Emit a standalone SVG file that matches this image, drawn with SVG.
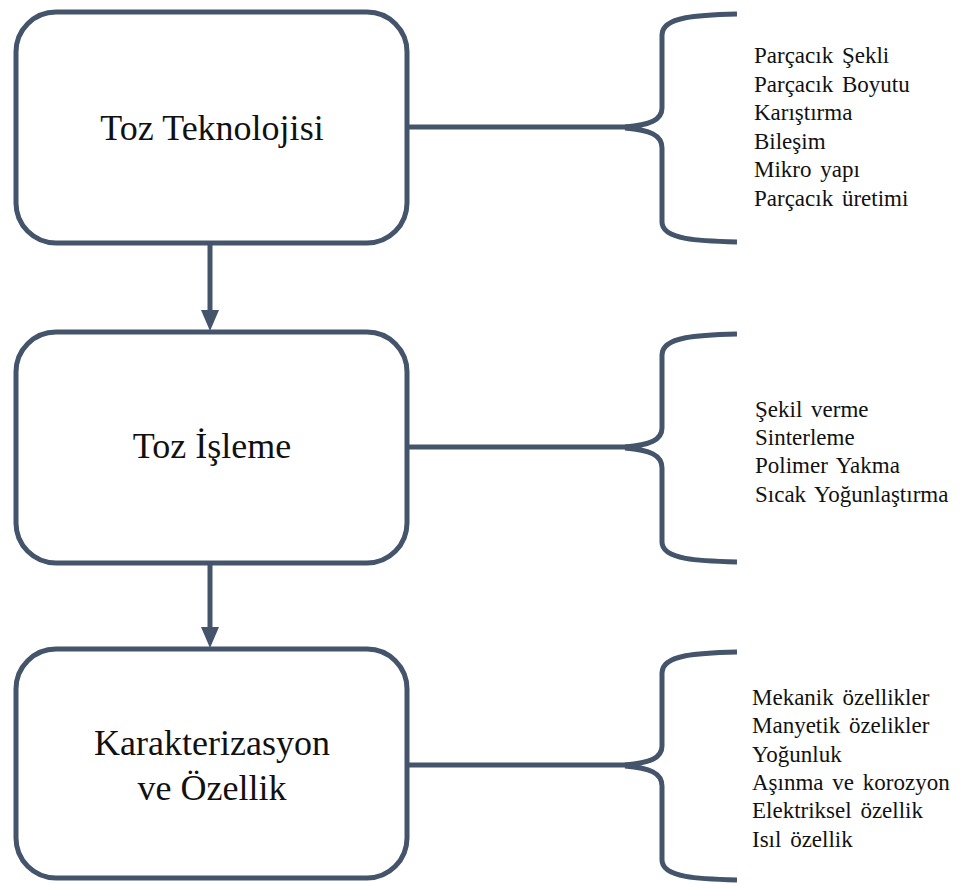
<svg xmlns="http://www.w3.org/2000/svg" width="964" height="884" viewBox="0 0 964 884">
<style>
.box{fill:#fff;stroke:#44546a;stroke-width:5}
.ln{fill:none;stroke:#44546a;stroke-width:5}
.br{fill:none;stroke:#44546a;stroke-width:5}
.ah{fill:#44546a}
.t{font-family:"Liberation Serif","Times New Roman",serif;font-size:36px;fill:#111;text-anchor:middle}
.s{font-family:"Liberation Serif","Times New Roman",serif;font-size:23px;fill:#111;word-spacing:3px}
</style>
<defs>
<path id="brace" d="M737,-113 C700,-112 662,-111 662,-92 L662,-19 C662,-7 650,-2 625,0 M625,1 C650,3 662,8 662,21 L662,95 C662,113 700,114 737,115"/>
<path id="ahead" d="M-9,-21 L9,-21 L0,0 Z"/>
</defs>
<rect width="964" height="884" fill="#fff"/>
<g id="connectors">
<line class="ln" x1="210" y1="243" x2="210" y2="312"/>
<use href="#ahead" class="ah" transform="translate(210 331)"/>
<line class="ln" x1="210" y1="563" x2="210" y2="629"/>
<use href="#ahead" class="ah" transform="translate(210 648)"/>
<line class="ln" x1="407" y1="127" x2="632" y2="127"/>
<line class="ln" x1="407" y1="447" x2="632" y2="447"/>
<line class="ln" x1="407" y1="765" x2="632" y2="765"/>
</g>
<g id="node1">
<rect class="box" x="16" y="12" width="391" height="231" rx="40"/>
<text class="t" x="212" y="140">Toz Teknolojisi</text>
</g>
<g id="node2">
<rect class="box" x="16" y="332" width="391" height="231" rx="40"/>
<text class="t" x="212" y="458">Toz İşleme</text>
</g>
<g id="node3">
<rect class="box" x="16" y="649" width="391" height="229" rx="40"/>
<text class="t" x="212" y="755">Karakterizasyon</text>
<text class="t" x="212" y="800">ve Özellik</text>
</g>
<g id="list1">
<use href="#brace" class="br" transform="translate(0 127)"/>
<text class="s" x="754" y="63">Parçacık Şekli</text>
<text class="s" x="754" y="92">Parçacık Boyutu</text>
<text class="s" x="754" y="120">Karıştırma</text>
<text class="s" x="754" y="149">Bileşim</text>
<text class="s" x="754" y="177">Mikro yapı</text>
<text class="s" x="754" y="206">Parçacık üretimi</text>
</g>
<g id="list2">
<use href="#brace" class="br" transform="translate(0 447)"/>
<text class="s" x="755" y="417">Şekil verme</text>
<text class="s" x="755" y="445">Sinterleme</text>
<text class="s" x="755" y="473">Polimer  Yakma</text>
<text class="s" x="755" y="502">Sıcak Yoğunlaştırma</text>
</g>
<g id="list3">
<use href="#brace" class="br" transform="translate(0 765)"/>
<text class="s" x="752" y="705">Mekanik özellikler</text>
<text class="s" x="752" y="733">Manyetik özelikler</text>
<text class="s" x="752" y="762">Yoğunluk</text>
<text class="s" x="752" y="790">Aşınma  ve korozyon</text>
<text class="s" x="752" y="818">Elektriksel özellik</text>
<text class="s" x="752" y="847">Isıl özellik</text>
</g>
</svg>
